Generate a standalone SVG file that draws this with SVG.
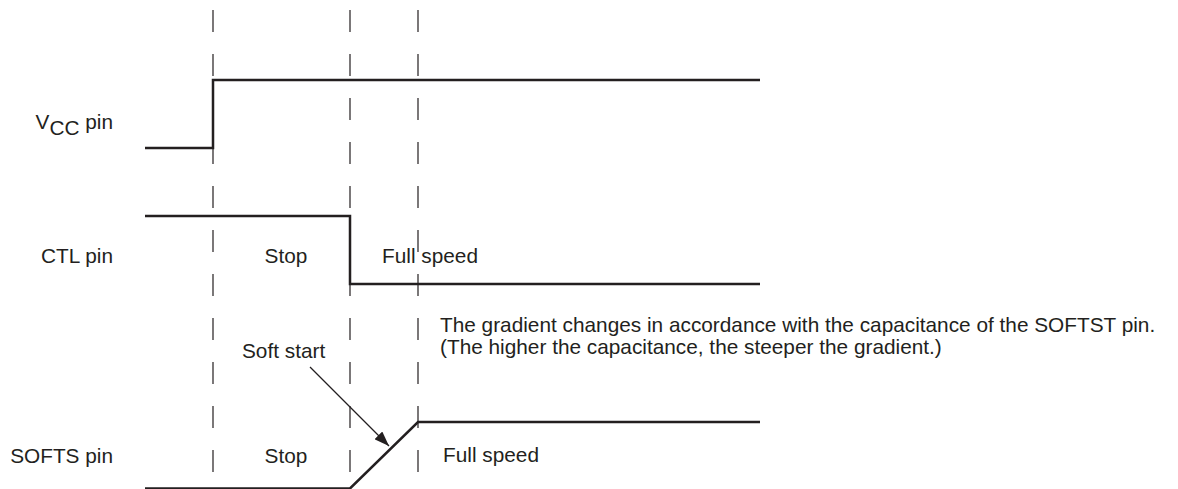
<svg xmlns="http://www.w3.org/2000/svg" width="1178" height="489" viewBox="0 0 1178 489">
<defs>
<style>
.t{font-family:"Liberation Sans",Arial,sans-serif;font-size:20.8px;fill:#231f20}
.sig{fill:none;stroke:#231f20;stroke-width:2.5}
.dash{stroke:#231f20;stroke-width:1.2;stroke-dasharray:22 22}
.arr{stroke:#231f20;stroke-width:1.2}
</style>
<marker id="ah" markerWidth="15" markerHeight="11" refX="15" refY="5.5" orient="auto" markerUnits="userSpaceOnUse">
<path d="M0,0 L15,5.5 L0,11 Z" fill="#231f20"/>
</marker>
</defs>
<rect width="1178" height="489" fill="#fff"/>
<g id="guides">
<line class="dash" x1="213" y1="10" x2="213" y2="489"/>
<line class="dash" x1="350" y1="10" x2="350" y2="489"/>
<line class="dash" x1="418" y1="10" x2="418" y2="489"/>
</g>
<g id="vcc">
<path class="sig" d="M145,148 H213 V80 H760"/>
<text class="t" x="113" y="129" text-anchor="end">V<tspan dy="5.5">CC</tspan><tspan dy="-5.5"> pin</tspan></text>
</g>
<g id="ctl">
<path class="sig" d="M145,216 H350 V284 H760"/>
<text class="t" x="113" y="263" text-anchor="end">CTL pin</text>
<text class="t" x="286" y="263" text-anchor="middle">Stop</text>
<text class="t" x="382" y="263">Full speed</text>
</g>
<g id="softs">
<path class="sig" d="M145,488.5 H350 L418,422 H760"/>
<text class="t" x="113" y="463" text-anchor="end">SOFTS pin</text>
<text class="t" x="286" y="463" text-anchor="middle">Stop</text>
<text class="t" x="443" y="462">Full speed</text>
<text class="t" x="242" y="358">Soft start</text>
<text class="t" x="440" y="332">The gradient changes in accordance with the capacitance of the SOFTST pin.</text>
<text class="t" x="440" y="354">(The higher the capacitance, the steeper the gradient.)</text>
</g>
<g id="connectors">
<line class="arr" x1="310" y1="367" x2="389" y2="446" marker-end="url(#ah)"/>
</g>
</svg>
